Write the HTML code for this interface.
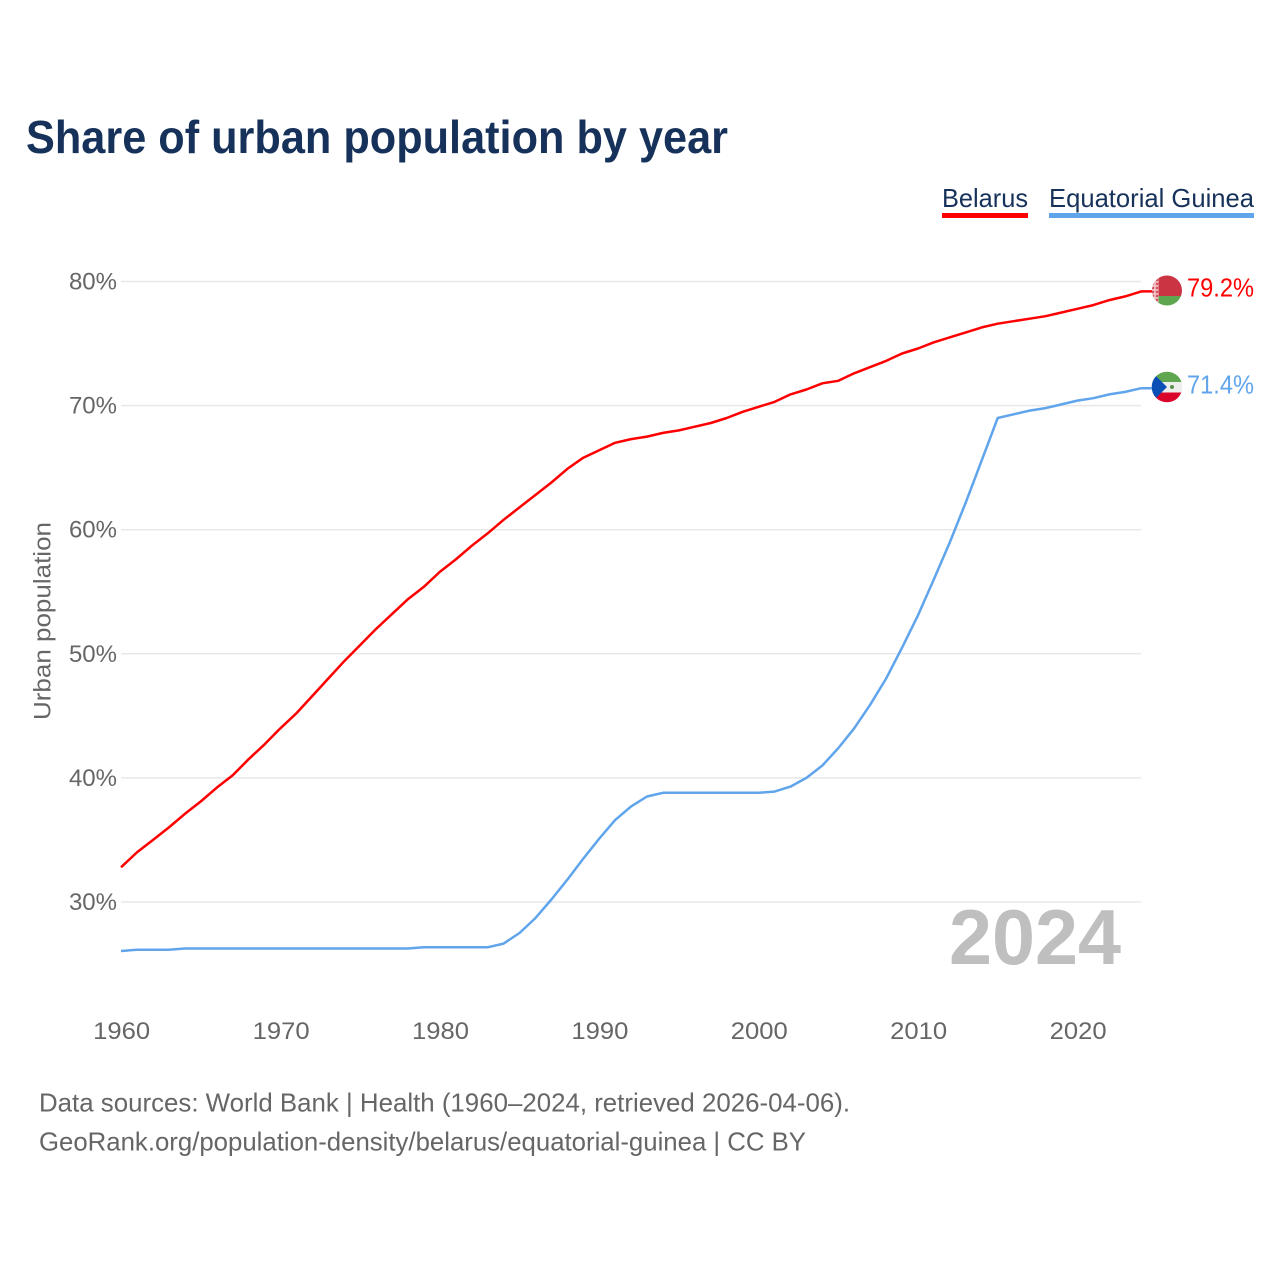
<!DOCTYPE html>
<html lang="en">
<head>
<meta charset="utf-8">
<title>Share of urban population by year</title>
<style>
html,body{margin:0;padding:0;background:#fff;width:1280px;height:1280px;overflow:hidden}
svg{display:block}
text{font-family:"Liberation Sans",sans-serif}
</style>
</head>
<body>
<svg id="chart" xmlns="http://www.w3.org/2000/svg" width="1280" height="1280" viewBox="0 0 1280 1280">
  <defs>
    <clipPath id="flag-clip-by"><circle cx="1167" cy="290.5" r="15"/></clipPath>
    <clipPath id="flag-clip-gq"><circle cx="1167" cy="387" r="15.3"/></clipPath>
    <pattern id="by-orn" width="4" height="4" patternUnits="userSpaceOnUse" x="1152" y="275">
      <rect width="4" height="4" fill="#efb4b8"/>
      <rect width="2" height="2" fill="#d5505c"/>
      <rect x="2" y="2" width="1" height="1" fill="#fbe6e7"/>
    </pattern>
  </defs>
  <text x="26" y="153" font-size="46" font-weight="700" fill="#17325a" textLength="702" lengthAdjust="spacingAndGlyphs">Share of urban population by year</text>

  <g>
    <g>
      <text x="942" y="207" font-size="26" fill="#17325a" textLength="86" lengthAdjust="spacingAndGlyphs">Belarus</text>
      <rect x="942" y="213" width="86" height="5" fill="#ff0000"/>
    </g>
    <g>
      <text x="1049" y="207" font-size="26" fill="#17325a" textLength="205" lengthAdjust="spacingAndGlyphs">Equatorial Guinea</text>
      <rect x="1049" y="213" width="205" height="5" fill="#60a5ec"/>
    </g>
  </g>

  <g id="grid"></g>
  <g id="yticks"></g>
  <g id="xticks"></g>
  <text transform="translate(50.5,720) rotate(-90)" x="0" y="0" font-size="24" fill="#666666" textLength="198" lengthAdjust="spacingAndGlyphs">Urban population</text>
  <text x="949" y="964" font-size="78" font-weight="700" fill="#bfbfbf" textLength="172" lengthAdjust="spacingAndGlyphs">2024</text>
  <g id="series"></g>

  <g clip-path="url(#flag-clip-by)">
    <rect x="1152" y="275" width="30" height="21" fill="#cb3443"/>
    <rect x="1152" y="296" width="30" height="10" fill="#5ea64f"/>
    <rect x="1152" y="275" width="6.5" height="31" fill="url(#by-orn)"/>
  </g>
  <g clip-path="url(#flag-clip-gq)">
    <rect x="1151" y="371" width="32" height="11" fill="#5ea64f"/>
    <rect x="1151" y="382" width="32" height="10.5" fill="#eeeeee"/>
    <rect x="1151" y="392.5" width="32" height="11" fill="#d9052b"/>
    <polygon points="1151,371 1167,387 1151,403" fill="#0a4fb5"/>
    <circle cx="1172" cy="387" r="2" fill="#5c8f4a"/>
  </g>
  <text x="1187" y="296.5" font-size="26" fill="#ff0000" textLength="67" lengthAdjust="spacingAndGlyphs">79.2%</text>
  <text x="1187" y="393.5" font-size="26" fill="#60a5ec" textLength="67" lengthAdjust="spacingAndGlyphs">71.4%</text>

  <text x="39" y="1111.5" font-size="26" fill="#666666" textLength="811" lengthAdjust="spacingAndGlyphs">Data sources: World Bank | Health (1960–2024, retrieved 2026-04-06).</text>
  <text x="39" y="1150.5" font-size="26" fill="#666666" textLength="767" lengthAdjust="spacingAndGlyphs">GeoRank.org/population-density/belarus/equatorial-guinea | CC BY</text>
</svg>
<script>
const startYear = 1960;
const yTickValues = [30, 40, 50, 60, 70, 80];
const xTickValues = [1960, 1970, 1980, 1990, 2000, 2010, 2020];
const belarus = [32.8,34.0,35.0,36.0,37.1,38.1,39.2,40.2,41.5,42.7,44.0,45.2,46.6,48.0,49.4,50.7,52.0,53.2,54.4,55.4,56.6,57.6,58.7,59.7,60.8,61.8,62.8,63.8,64.9,65.8,66.4,67.0,67.3,67.5,67.8,68.0,68.3,68.6,69.0,69.5,69.9,70.3,70.9,71.3,71.8,72.0,72.6,73.1,73.6,74.2,74.6,75.1,75.5,75.9,76.3,76.6,76.8,77.0,77.2,77.5,77.8,78.1,78.5,78.8,79.2];
const equatorialGuinea = [26.05,26.15,26.15,26.15,26.25,26.25,26.25,26.25,26.25,26.25,26.25,26.25,26.25,26.25,26.25,26.25,26.25,26.25,26.25,26.35,26.35,26.35,26.35,26.35,26.65,27.5,28.7,30.2,31.8,33.5,35.1,36.6,37.7,38.5,38.8,38.8,38.8,38.8,38.8,38.8,38.8,38.9,39.3,40.0,41.0,42.4,44.0,45.9,48.0,50.5,53.1,56.0,59.0,62.2,65.6,69.0,69.3,69.6,69.8,70.1,70.4,70.6,70.9,71.1,71.4];

const NS = 'http://www.w3.org/2000/svg';
function xScale(year) { return 121 + (year - 1960) * 15.94; }
function yScale(v) { return 281.5 + (80 - v) * 12.41; }

const gridG = document.getElementById('grid');
const yG = document.getElementById('yticks');
yTickValues.forEach(function (v) {
  const line = document.createElementNS(NS, 'line');
  
  
  line.setAttribute('x1', 121);
  line.setAttribute('x2', 1141);
  line.setAttribute('y1', yScale(v));
  line.setAttribute('y2', yScale(v));
  line.setAttribute('stroke', '#e8e8e8');
  line.setAttribute('stroke-width', '1.5');
  gridG.appendChild(line);
  const t = document.createElementNS(NS, 'text');
  
  
  t.setAttribute('x', 117);
  t.setAttribute('y', yScale(v) + 8);
  t.setAttribute('text-anchor', 'end');
  t.setAttribute('font-size', '24');
  t.setAttribute('fill', '#666666');
  t.textContent = v + '%';
  yG.appendChild(t);
});

const xG = document.getElementById('xticks');
xTickValues.forEach(function (y) {
  const t = document.createElementNS(NS, 'text');
  
  
  t.setAttribute('x', xScale(y) + 0.7);
  t.setAttribute('y', 1039);
  t.setAttribute('text-anchor', 'middle');
  t.setAttribute('font-size', '24');
  t.setAttribute('fill', '#666666');
  t.setAttribute('textLength', '57');
  t.setAttribute('lengthAdjust', 'spacingAndGlyphs');
  t.textContent = y;
  xG.appendChild(t);
});

const seriesG = document.getElementById('series');
function drawSeries(values, color, name) {
  const pts = values.map(function (v, i) { return xScale(startYear + i).toFixed(1) + ',' + yScale(v).toFixed(1); });
  const last = values[values.length - 1];
  pts.push('1152,' + yScale(last).toFixed(1));
  const p = document.createElementNS(NS, 'polyline');
  
  
  p.setAttribute('points', pts.join(' '));
  p.setAttribute('fill', 'none');
  p.setAttribute('stroke', color);
  p.setAttribute('stroke-width', '2.5');
  p.setAttribute('stroke-linejoin', 'round');
  seriesG.appendChild(p);
}
drawSeries(belarus, '#ff0000', 'line-belarus');
drawSeries(equatorialGuinea, '#60a5ec', 'line-equatorial-guinea');
</script>
</body>
</html>
